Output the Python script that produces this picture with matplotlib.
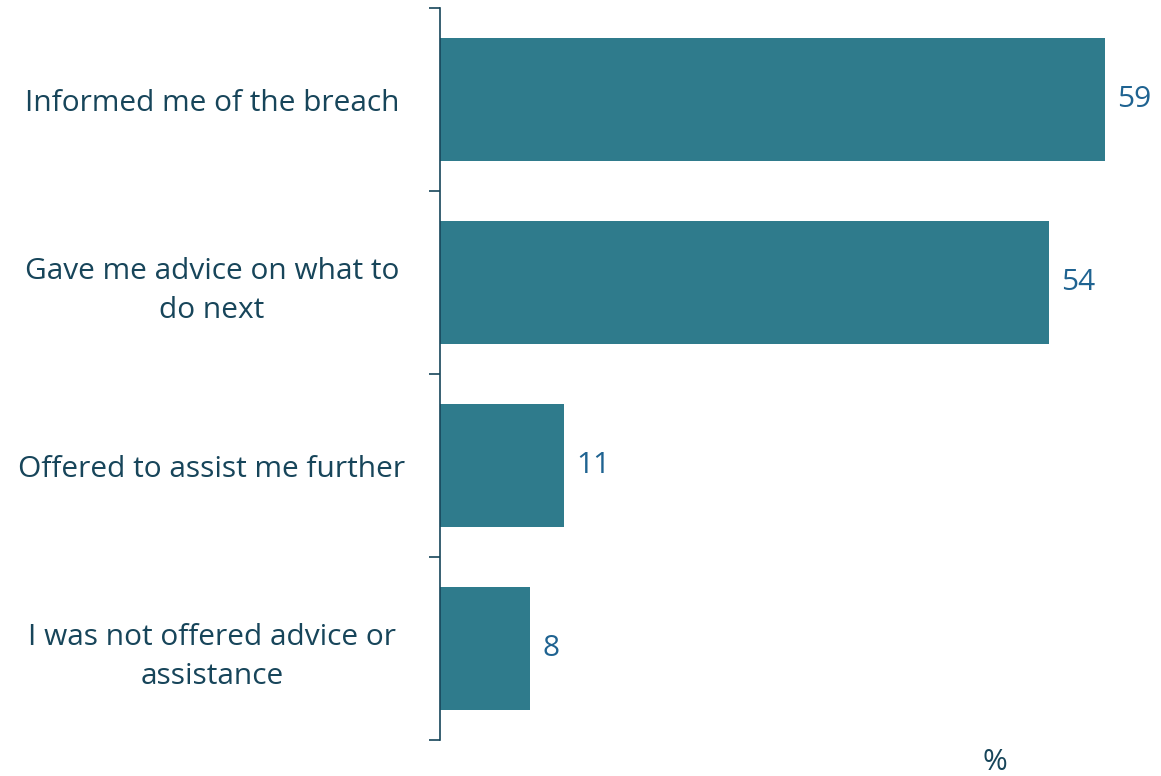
import matplotlib
matplotlib.use("Agg")
import matplotlib.pyplot as plt
import numpy as np

categories = ["Informed me of the breach", "Gave me advice on what to\ndo next",
              "Offered to assist me further", "I was not offered advice or\nassistance"]
values = [59, 54, 11, 8]

bar_color = "#2F7B8C"
text_color = "#17455A"
value_color = "#1F6391"
plt.rcParams['font.family'] = ['Open Sans', 'DejaVu Sans']

fig = plt.figure(figsize=(11.61, 7.76), dpi=100)
ax = fig.add_axes([440/1161, 1-740/776, 721/1161, (740-8)/776])

n = len(categories)
ypos = np.arange(n)
ax.barh(ypos, values, height=0.667, color=bar_color)
ax.set_ylim(n - 0.5, -0.5)
ax.set_xlim(0, 721/11.27)

for s in ["top", "right", "bottom"]:
    ax.spines[s].set_visible(False)
ax.spines["left"].set_color(text_color)
ax.spines["left"].set_linewidth(1.2)
ax.set_xticks([])

ax.set_yticks(np.arange(n + 1) - 0.5)
ax.set_yticklabels([])
ax.tick_params(axis="y", which="major", length=8, width=1.2, color=text_color)
ax.set_yticks(ypos, minor=True)
ax.set_yticklabels(categories, minor=True, ha="center", multialignment="center",
                   fontsize=21.5, color=text_color, linespacing=1.45)
ax.tick_params(axis="y", which="minor", length=0, pad=(440-212)*72/100)

for y, v in zip(ypos, values):
    ax.annotate(f"{v}", xy=(v, y), xytext=(9, 0), textcoords="offset points",
                va="center", ha="left", fontsize=21.5, color=value_color)

fig.text(995/1161, 1-762/776, "%", ha="center", va="center", fontsize=21.5, color=text_color)

fig.savefig("out.png", dpi=100)
